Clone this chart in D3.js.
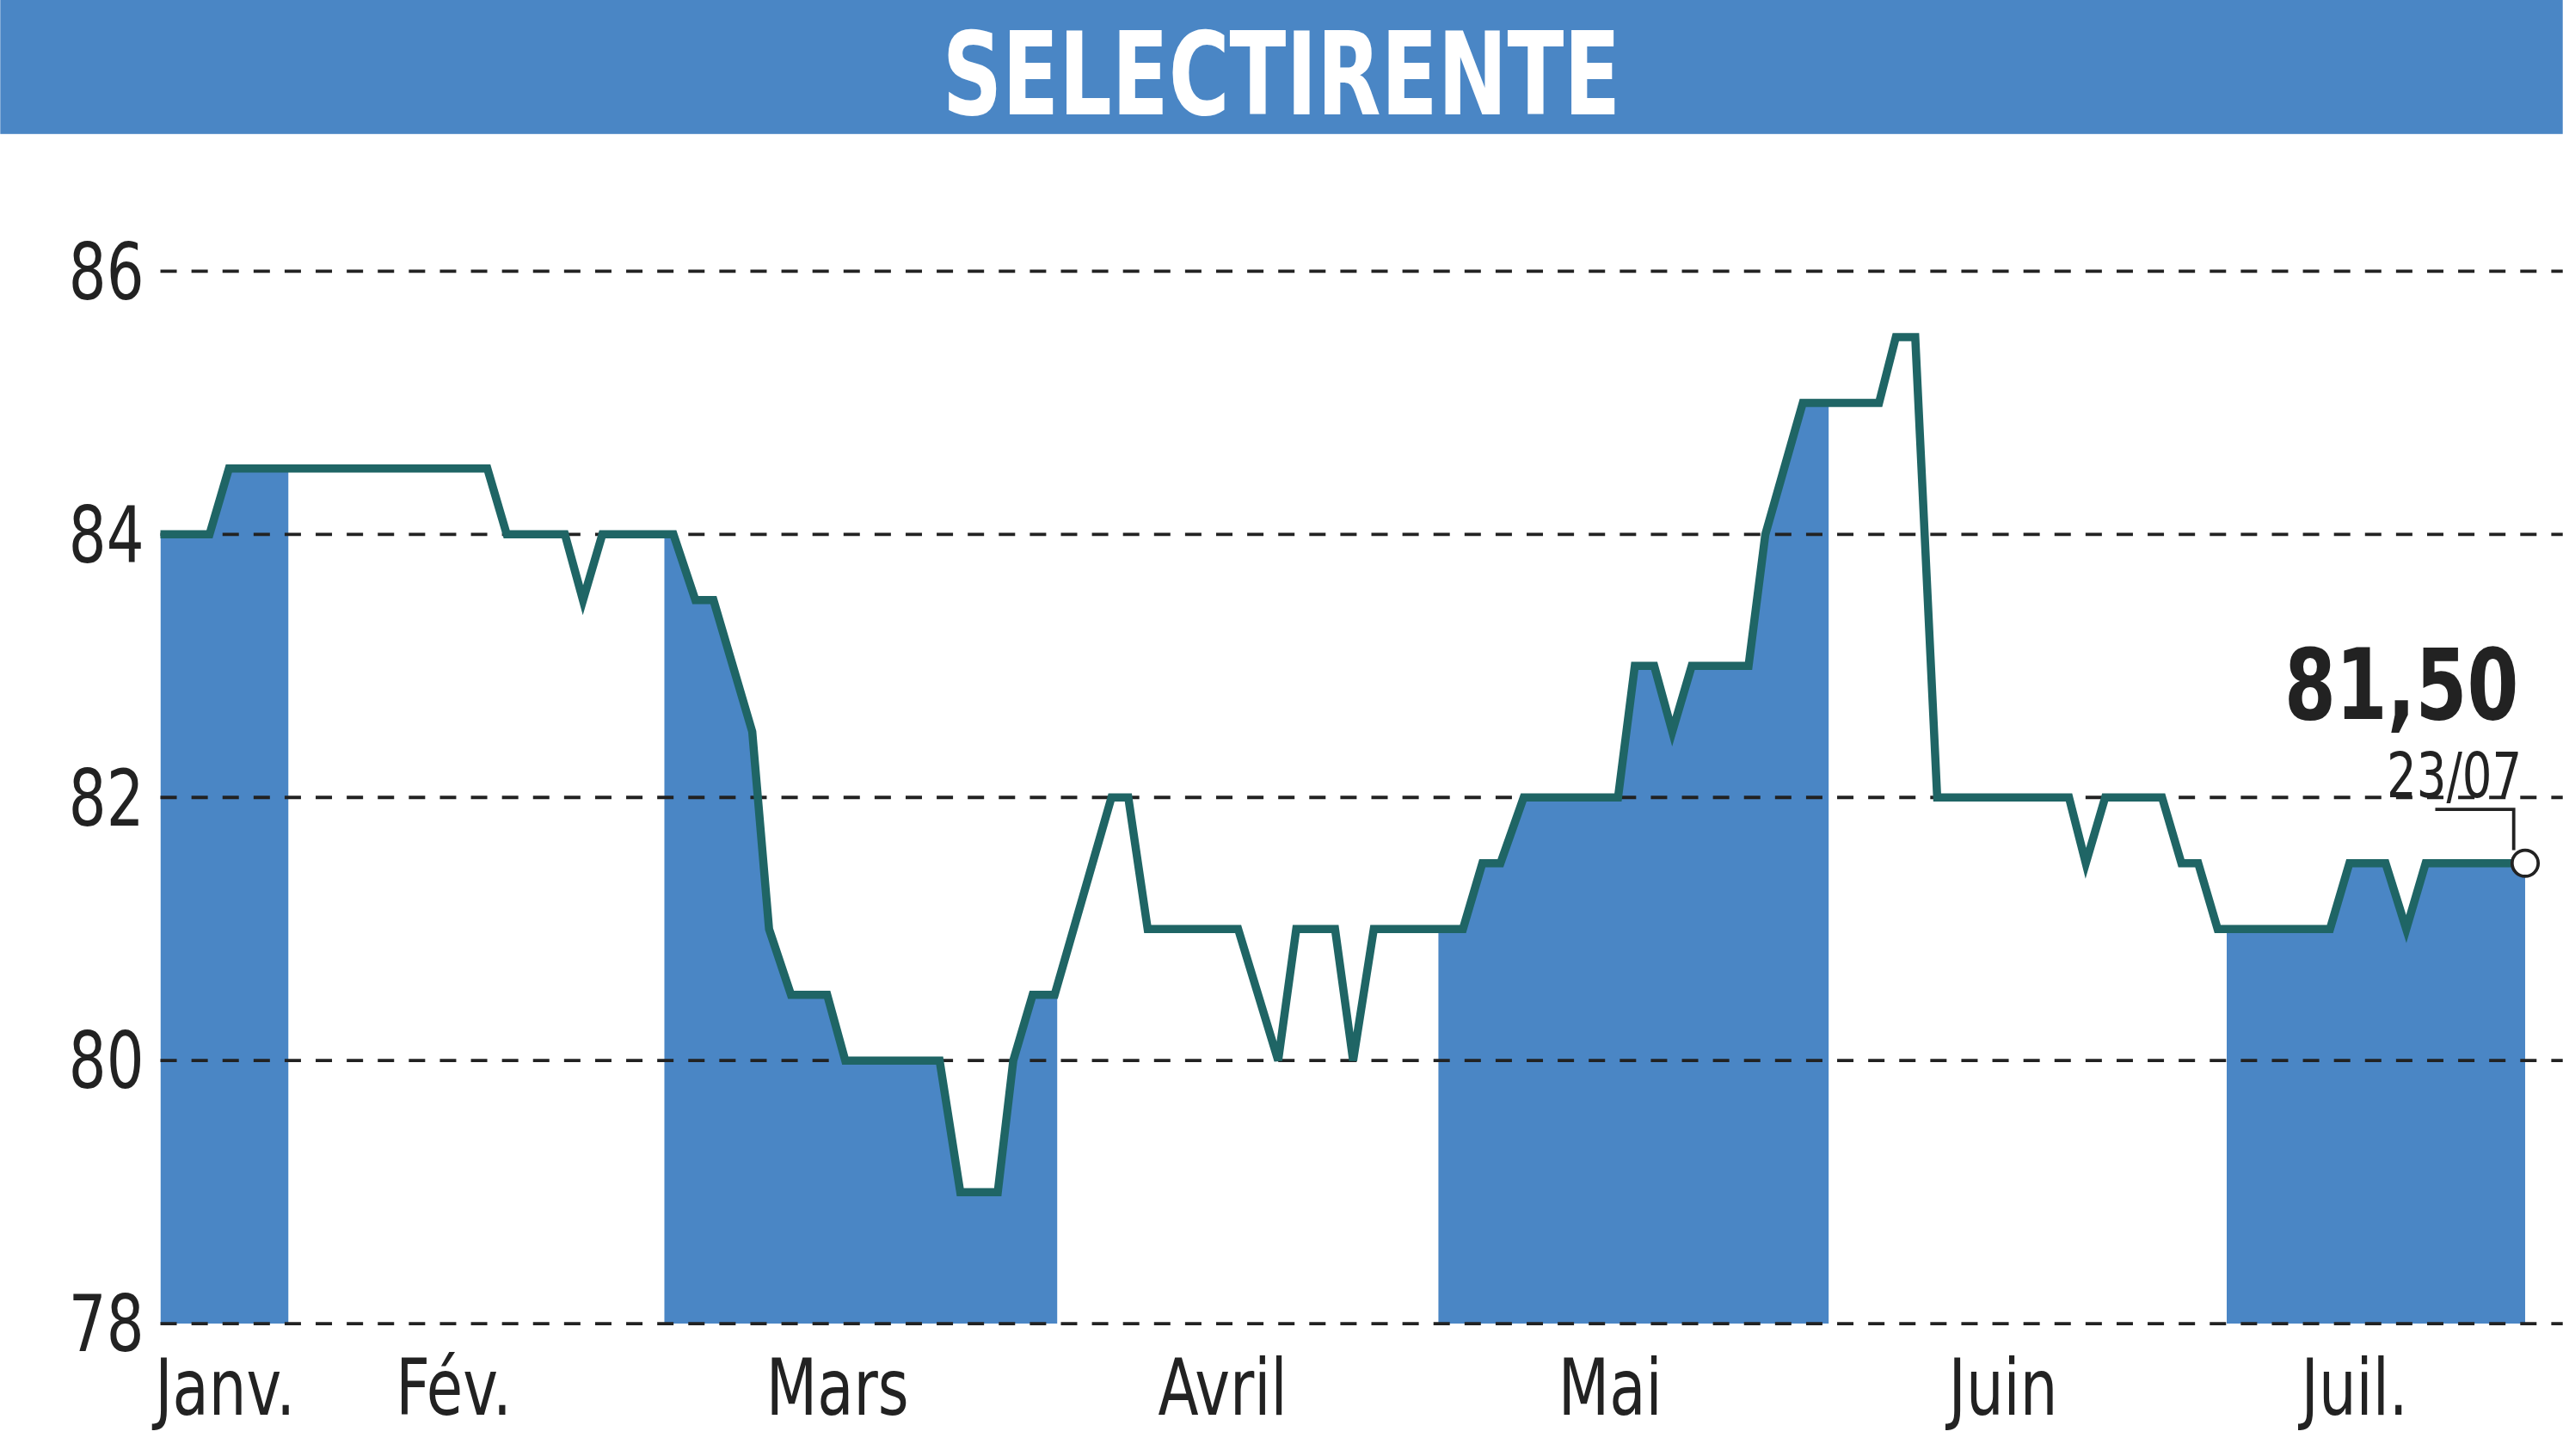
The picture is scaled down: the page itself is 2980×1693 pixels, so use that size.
<!DOCTYPE html><html><head><meta charset="utf-8">
<script src="https://cdn.jsdelivr.net/npm/d3@7"></script>
<style>body{margin:0;background:#fff}</style></head><body>
<svg id="c" width="2980" height="1693" viewBox="0 0 1568 891"></svg>
<script>
const title="SELECTIRENTE";
const days=[21.1,24.9,26.4,46.4,47.9,52.4,53.8,55.3,60.8,62.5,63.9,66.9,68.2,69.9,72.7,74.1,81.4,83.0,85.9,87.1,88.6,90.3,94.7,96.0,97.5,104.5,107.6,109.0,112.0,113.4,115.0,121.9,123.4,124.8,126.6,133.9,135.2,136.7,138.1,139.6,144.0,145.3,148.2,154.1,155.4,156.9,158.6,168.8,170.1,171.6,176.0,177.5,178.8,180.3,189.0,190.5,193.3,194.9,196.4,204.1];
const values=[84,84,84.5,84.5,84,84,83.5,84,84,83.5,83.5,82.5,81,80.5,80.5,80,80,79,79,80,80.5,80.5,82,82,81,81,80,81,81,80,81,81,81.5,81.5,82,82,83,83,82.5,83,83,84,85,85,85.5,85.5,82,82,81.5,82,82,81.5,81.5,81,81,81.5,81.5,81,81.5,81.5];
const monthLabels=["Janv.","Fév.","Mars","Avril","Mai","Juin","Juil."];
const labelDays=[26.1,43.8,73.5,103.3,133.3,163.7,190.9];
const monthStarts=[21.1,31,60.1,90.5,120,150.2,181,204.1];
const yTicks=[78,80,82,84,86];
const lastLabel="81,50", lastDate="23/07";

const svg=d3.select("#c");
const x=d3.scaleLinear().domain([21.1,204.1]).range([98,1545]);
const y=d3.scaleLinear().domain([78,86]).range([810,166]);
const font="'DejaVu Sans Condensed','DejaVu Sans',sans-serif";
function txt(s,px,py,size,anchor,bold){
  const g=svg.append("g").attr("transform",`translate(${px},${py}) scale(0.84,1)`);
  g.append("text").attr("text-anchor",anchor).attr("font-family",font).attr("font-size",size)
   .attr("font-weight",bold?"bold":"normal").attr("fill","#222").text(s);
}
svg.append("rect").attr("width",1568).attr("height",82).attr("fill","#4a86c5");
svg.append("text").attr("x",784).attr("y",70).attr("text-anchor","middle").attr("fill","#fff")
 .attr("font-family",font).attr("font-weight","bold").attr("font-size",70).attr("textLength",415).attr("lengthAdjust","spacingAndGlyphs").text(title);
const area=d3.area().x(d=>x(d[0])).y0(y(78)).y1(d=>y(d[1]));
const pts=days.map((d,i)=>[d,values[i]]);
[0,2,4,6].forEach(m=>{
  const a=monthStarts[m],b=monthStarts[m+1];
  svg.append("clipPath").attr("id","cl"+m).append("rect").attr("x",x(a)).attr("y",0).attr("width",x(b)-x(a)).attr("height",891);
  svg.append("path").attr("d",area(pts)).attr("fill","#4a86c5").attr("clip-path",`url(#cl${m})`);
});
yTicks.forEach(t=>{
  svg.append("line").attr("x1",98).attr("x2",1568).attr("y1",y(t)).attr("y2",y(t)).attr("stroke","#222").attr("stroke-width",2).attr("stroke-dasharray","10,9");
  txt(t,88,y(t)+17,48,"end");
});
monthLabels.forEach((m,i)=>txt(m,x(labelDays[i]),866,48,"middle"));
svg.append("path").attr("d",d3.line().x(d=>x(d[0])).y(d=>y(d[1]))(pts)).attr("fill","none").attr("stroke","#1f6565").attr("stroke-width",5);
const lx=x(days[days.length-1]), ly=y(values[values.length-1]);
svg.append("path").attr("d",`M${lx-55},${ly-33}H${lx-7}V${ly-8}`).attr("fill","none").attr("stroke","#222").attr("stroke-width",2);
svg.append("circle").attr("cx",lx).attr("cy",ly).attr("r",8).attr("fill","#fff").attr("stroke","#222").attr("stroke-width",2);
txt(lastLabel,lx-4,440,60,"end",true);
txt(lastDate,lx-2,488,38,"end");
</script></body></html>
